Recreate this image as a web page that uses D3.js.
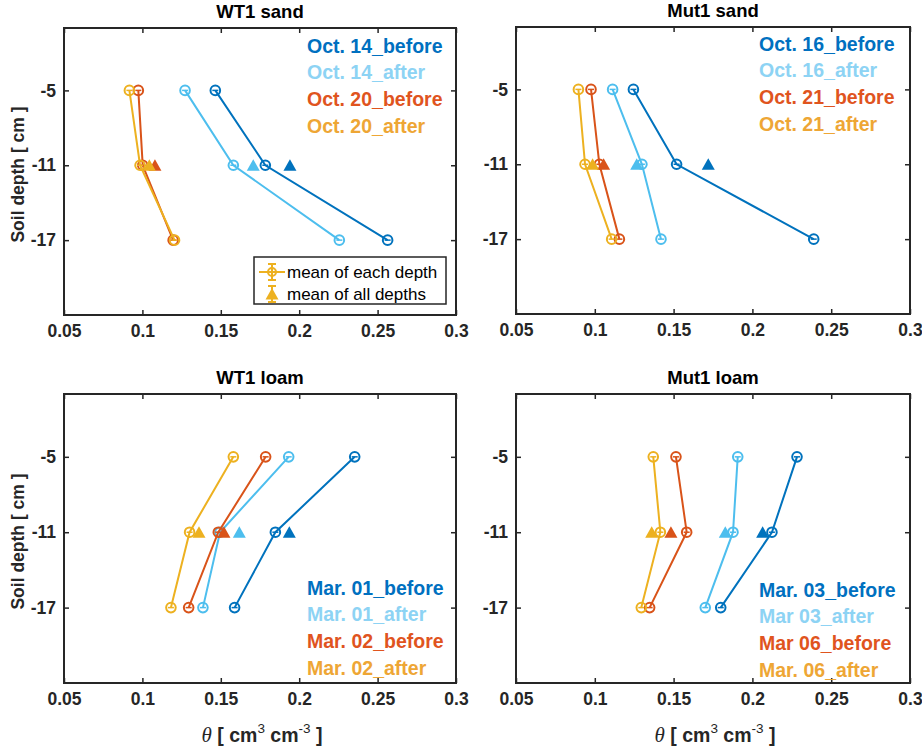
<!DOCTYPE html>
<html>
<head>
<meta charset="utf-8">
<script src="https://cdn.jsdelivr.net/npm/d3@7"></script>
<style>
  body { margin: 0; background: #fff; }
  svg { display: block; }
  text { font-family: "Liberation Sans", Arial, sans-serif; }
</style>
</head>
<body>
<svg id="chart" width="922" height="748"></svg>
<script>
// depths of the sensors (cm) and axis ticks
const depths = [-5, -11, -17];
const yTicks = [-5, -11, -17];
const xTicks = [0.05, 0.1, 0.15, 0.2, 0.25, 0.3];

const titles = ["WT1 sand", "Mut1 sand", "WT1 loam", "Mut1 loam"];

const wt1SandLabels = ["Oct. 14_before", "Oct. 14_after", "Oct. 20_before", "Oct. 20_after"];
const mut1SandLabels = ["Oct. 16_before", "Oct. 16_after", "Oct. 21_before", "Oct. 21_after"];
const wt1LoamLabels = ["Mar. 01_before", "Mar. 01_after", "Mar. 02_before", "Mar. 02_after"];
const mut1LoamLabels = ["Mar. 03_before", "Mar 03_after", "Mar 06_before", "Mar. 06_after"];

// theta at -5, -11, -17 for each series
const wt1SandValues = [
  [0.1465, 0.1784, 0.2564],
  [0.1272, 0.1580, 0.2256],
  [0.0974, 0.1002, 0.1196],
  [0.0917, 0.0985, 0.1205]
];
const mut1SandValues = [
  [0.1245, 0.1519, 0.2389],
  [0.1113, 0.1299, 0.1420],
  [0.0976, 0.1029, 0.1156],
  [0.0896, 0.0938, 0.1107]
];
const wt1LoamValues = [
  [0.2354, 0.1848, 0.1588],
  [0.1933, 0.1495, 0.1386],
  [0.1786, 0.1484, 0.1295],
  [0.1580, 0.1301, 0.1182]
];
const mut1LoamValues = [
  [0.2283, 0.2124, 0.1799],
  [0.1907, 0.1877, 0.1701],
  [0.1515, 0.1583, 0.1348],
  [0.1371, 0.1416, 0.1295]
];

// mean of all depths (drawn at -11)
const wt1SandMeans = [0.1941, 0.1707, 0.1080, 0.1044];
const mut1SandMeans = [0.1720, 0.1266, 0.1056, 0.0986];
const wt1LoamMeans = [0.1937, 0.1618, 0.1520, 0.1361];
const mut1LoamMeans = [0.2065, 0.1828, 0.1483, 0.1361];
const meanDepth = -11;

const seriesColors = ["#0072BD", "#4DBEEE", "#D95319", "#EDB120"];
const textColors = ["#0070C0", "#8DD3F4", "#E0541E", "#EEA635"];

const panels = [
  { x: 64,  y: 28,  w: 392, h: 287, title: titles[0], labels: wt1SandLabels,  values: wt1SandValues,  means: wt1SandMeans,  legY: 18,  ylab: true,  xlab: false, meanLegend: true },
  { x: 516, y: 27,  w: 394, h: 287, title: titles[1], labels: mut1SandLabels, values: mut1SandValues, means: mut1SandMeans, legY: 17,  ylab: false, xlab: false, meanLegend: false },
  { x: 64,  y: 394, w: 392, h: 289, title: titles[2], labels: wt1LoamLabels,  values: wt1LoamValues,  means: wt1LoamMeans,  legY: 194, ylab: true,  xlab: true,  meanLegend: false },
  { x: 516, y: 394, w: 394, h: 289, title: titles[3], labels: mut1LoamLabels, values: mut1LoamValues, means: mut1LoamMeans, legY: 196, ylab: false, xlab: true,  meanLegend: false }
];

const svg = d3.select("#chart");
const axisColor = "#262626";

function triangle(g, cx, cy, color) {
  g.append("path")
    .attr("d", `M${cx - 6.5},${cy + 5.5}L${cx + 6.5},${cy + 5.5}L${cx},${cy - 6}Z`)
    .attr("fill", color);
}

function circleMarker(g, cx, cy, color) {
  g.append("circle").attr("cx", cx).attr("cy", cy).attr("r", 4.8)
    .attr("fill", "none").attr("stroke", color).attr("stroke-width", 2);
  g.append("line").attr("x1", cx - 3).attr("x2", cx + 3).attr("y1", cy).attr("y2", cy)
    .attr("stroke", color).attr("stroke-width", 1.5);
}

panels.forEach(p => {
  const g = svg.append("g");
  const x = d3.scaleLinear().domain([0.05, 0.3]).range([p.x, p.x + p.w]);
  const y = d3.scaleLinear().domain([-23, 0]).range([p.y + p.h, p.y]);

  // title
  g.append("text")
    .attr("x", p.x + p.w / 2).attr("y", p.y - 10)
    .attr("text-anchor", "middle")
    .attr("font-size", 18.5).attr("font-weight", "bold")
    .attr("fill", "#000")
    .text(p.title);

  // axes (ticks inside, box)
  const axB = d3.axisBottom(x).tickValues(xTicks).tickSize(-5).tickPadding(10).tickFormat(d => String(d));
  const axT = d3.axisTop(x).tickValues(xTicks).tickSize(-5).tickFormat("");
  const axL = d3.axisLeft(y).tickValues(yTicks).tickSize(-5).tickPadding(8).tickFormat(d => String(d));
  const axR = d3.axisRight(y).tickValues(yTicks).tickSize(-5).tickFormat("");

  [[axB, `translate(0,${p.y + p.h})`], [axT, `translate(0,${p.y})`],
   [axL, `translate(${p.x},0)`], [axR, `translate(${p.x + p.w},0)`]].forEach(([ax, tr]) => {
    const a = g.append("g").attr("transform", tr).call(ax);
    a.select(".domain").remove();
    a.selectAll(".tick line").attr("stroke", axisColor).attr("stroke-width", 1.5);
    a.selectAll(".tick text")
      .attr("font-family", "'Liberation Sans', Arial, sans-serif")
      .attr("font-size", 17.5).attr("font-weight", "bold").attr("fill", axisColor);
  });

  g.append("rect")
    .attr("x", p.x).attr("y", p.y).attr("width", p.w).attr("height", p.h)
    .attr("fill", "none").attr("stroke", axisColor).attr("stroke-width", 2);

  // series
  const line = d3.line().x(d => x(d[0])).y(d => y(d[1]));
  p.values.forEach((vals, i) => {
    const pts = vals.map((v, k) => [v, depths[k]]);
    g.append("path").attr("d", line(pts))
      .attr("fill", "none").attr("stroke", seriesColors[i]).attr("stroke-width", 2);
    pts.forEach(d => circleMarker(g, x(d[0]), y(d[1]), seriesColors[i]));
    triangle(g, x(p.means[i]), y(meanDepth), seriesColors[i]);
  });

  // date legend text
  p.labels.forEach((lab, i) => {
    g.append("text")
      .attr("x", p.x + 243).attr("y", p.y + p.legY + i * 26.7 + 6.5)
      .attr("font-family", "Lato, 'Open Sans', sans-serif")
      .attr("font-size", 19.5).attr("font-weight", "bold")
      .attr("fill", textColors[i])
      .text(lab);
  });

  // y label
  if (p.ylab) {
    g.append("text")
      .attr("transform", `translate(24,${p.y + p.h / 2 + 3}) rotate(-90)`)
      .attr("text-anchor", "middle")
      .attr("font-size", 17.5).attr("font-weight", "bold").attr("fill", axisColor)
      .text("Soil depth [ cm ]");
  }

  // x label
  if (p.xlab) {
    const t = g.append("text")
      .attr("x", p.x + p.w / 2 + 2).attr("y", p.y + p.h + 59)
      .attr("text-anchor", "middle")
      .attr("font-size", 19.5).attr("font-weight", "bold").attr("fill", axisColor);
    t.append("tspan").attr("font-family", "'Liberation Serif', serif").attr("font-style", "italic")
      .attr("font-weight", "normal").attr("font-size", 21).text("θ");
    t.append("tspan").text(" [ cm");
    t.append("tspan").attr("dy", -9).attr("font-size", 13.5).attr("font-weight", "normal").text("3");
    t.append("tspan").attr("dy", 9).text(" cm");
    t.append("tspan").attr("dy", -9).attr("font-size", 13.5).attr("font-weight", "normal").text("-3");
    t.append("tspan").attr("dy", 9).text(" ]");
  }

  // legend box for marker meaning
  if (p.meanLegend) {
    const lx = p.x + 190, ly = p.y + 229;
    const lg = g.append("g");
    lg.append("rect").attr("x", lx).attr("y", ly).attr("width", 192).attr("height", 47)
      .attr("fill", "#fff").attr("stroke", axisColor).attr("stroke-width", 1.5);
    const c = seriesColors[3];
    const sx = lx + 18;
    // row 1: line + circle + error bar
    const r1 = ly + 15;
    lg.append("line").attr("x1", sx - 13).attr("x2", sx + 13).attr("y1", r1).attr("y2", r1)
      .attr("stroke", c).attr("stroke-width", 2);
    lg.append("line").attr("x1", sx).attr("x2", sx).attr("y1", r1 - 8).attr("y2", r1 + 8)
      .attr("stroke", c).attr("stroke-width", 2);
    [r1 - 8, r1 + 8].forEach(yy => lg.append("line").attr("x1", sx - 4).attr("x2", sx + 4)
      .attr("y1", yy).attr("y2", yy).attr("stroke", c).attr("stroke-width", 2));
    lg.append("circle").attr("cx", sx).attr("cy", r1).attr("r", 4).attr("fill", "none")
      .attr("stroke", c).attr("stroke-width", 2);
    // row 2: triangle + error bar
    const r2 = ly + 37;
    lg.append("line").attr("x1", sx).attr("x2", sx).attr("y1", r2 - 8).attr("y2", r2 + 8)
      .attr("stroke", c).attr("stroke-width", 2);
    [r2 - 8, r2 + 8].forEach(yy => lg.append("line").attr("x1", sx - 4).attr("x2", sx + 4)
      .attr("y1", yy).attr("y2", yy).attr("stroke", c).attr("stroke-width", 2));
    triangle(lg, sx, r2, c);
    lg.append("text").attr("x", lx + 33).attr("y", r1 + 6)
      .attr("font-size", 17).attr("fill", "#000").text("mean of each depth");
    lg.append("text").attr("x", lx + 33).attr("y", r2 + 6)
      .attr("font-size", 17).attr("fill", "#000").text("mean of all depths");
  }
});
</script>
</body>
</html>
